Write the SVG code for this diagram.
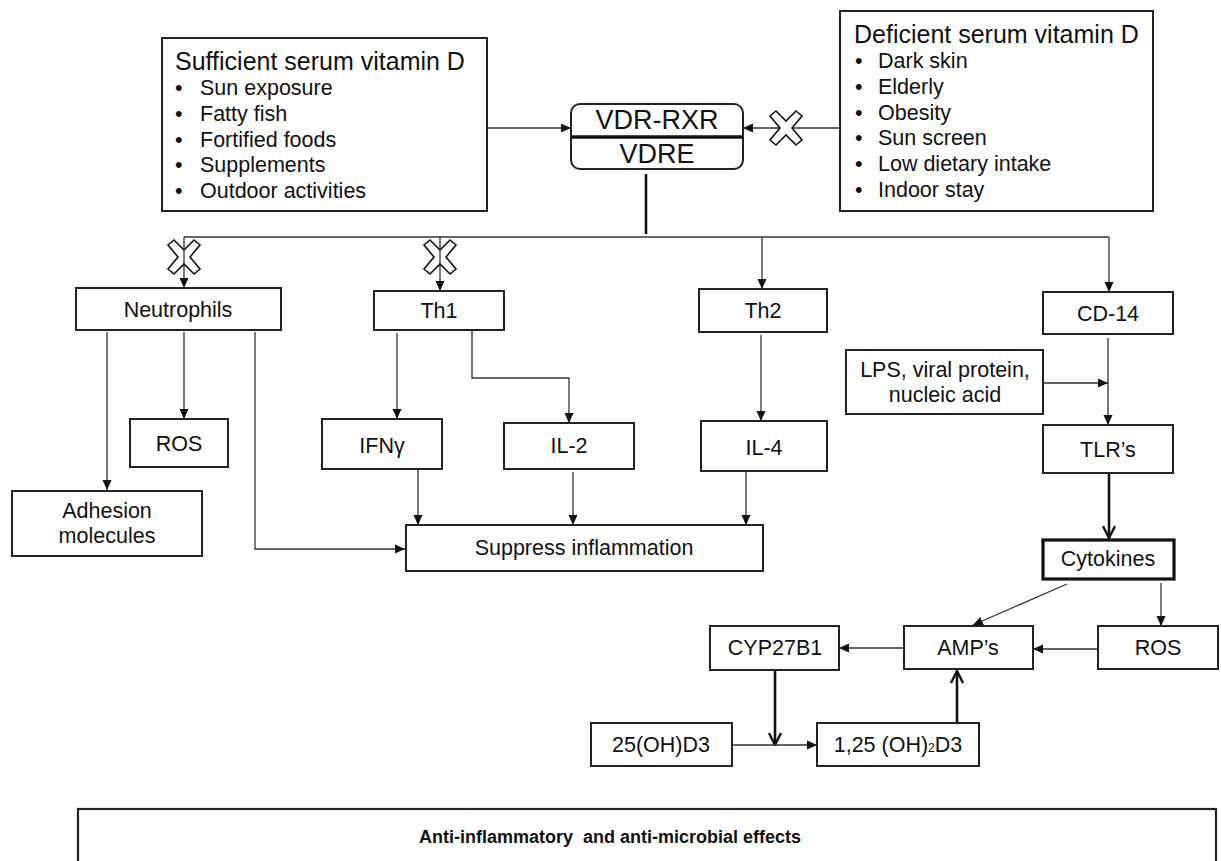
<svg xmlns="http://www.w3.org/2000/svg" width="1221" height="861" viewBox="0 0 1221 861">
<defs>
<style>
.box{fill:#fff;stroke:#222;stroke-width:2}
.thick{fill:#fff;stroke:#111;stroke-width:3.2}
.t{font-family:"Liberation Sans",Arial,sans-serif;font-size:21.5px;fill:#111;text-anchor:middle}
.l{font-family:"Liberation Sans",Arial,sans-serif;font-size:21.5px;fill:#111}
.h{font-family:"Liberation Sans",Arial,sans-serif;font-size:25px;fill:#111}
.c{fill:none;stroke:#333;stroke-width:1.3}
.ck{fill:none;stroke:#111;stroke-width:2.6}
.x{fill:#fff;stroke:#111;stroke-width:1.6;stroke-linejoin:miter}
</style>
<marker id="ah" viewBox="0 0 10 10" refX="10" refY="5" markerWidth="10" markerHeight="10" markerUnits="userSpaceOnUse" orient="auto"><path d="M0,0.5 L10,5 L0,9.5 z" fill="#111"/></marker>
<marker id="oh" viewBox="0 0 14 14" refX="13" refY="7" markerWidth="14" markerHeight="14" markerUnits="userSpaceOnUse" orient="auto"><path d="M1,1 L13,7 L1,13" fill="none" stroke="#111" stroke-width="2.4"/></marker>
<polygon id="xm" points="-16,-12 -10,-17 0,-7 10,-17 16,-12 6,0 16,12 10,17 0,7 -10,17 -16,12 -6,0"/>
</defs>
<rect width="1221" height="861" fill="#fff"/>

<g id="connectors">
<line class="c" x1="487" y1="128" x2="571" y2="128" marker-end="url(#ah)"/>
<line class="c" x1="840" y1="128" x2="743" y2="128" marker-end="url(#ah)"/>
<use href="#xm" class="x" x="786" y="128"/>
<line class="ck" x1="646" y1="174" x2="646" y2="234"/>
<polyline class="c" points="184,237 1109,237"/>
<use href="#xm" class="x" x="184" y="257"/>
<use href="#xm" class="x" x="440" y="257"/>
<line class="c" x1="184" y1="237" x2="184" y2="288" marker-end="url(#ah)"/>
<line class="c" x1="440" y1="237" x2="440" y2="291" marker-end="url(#ah)"/>
<line class="c" x1="762" y1="237" x2="762" y2="289" marker-end="url(#ah)"/>
<line class="c" x1="1109" y1="237" x2="1109" y2="292" marker-end="url(#ah)"/>
<line class="c" x1="107" y1="332" x2="107" y2="490" marker-end="url(#ah)"/>
<line class="c" x1="184" y1="332" x2="184" y2="419" marker-end="url(#ah)"/>
<polyline class="c" points="255,332 255,549 405,549" marker-end="url(#ah)"/>
<line class="c" x1="397" y1="333" x2="397" y2="419" marker-end="url(#ah)"/>
<polyline class="c" points="472,330 472,378 569,378 569,423" marker-end="url(#ah)"/>
<line class="c" x1="761" y1="335" x2="761" y2="421" marker-end="url(#ah)"/>
<line class="c" x1="418" y1="470" x2="418" y2="525" marker-end="url(#ah)"/>
<line class="c" x1="573" y1="472" x2="573" y2="525" marker-end="url(#ah)"/>
<line class="c" x1="746" y1="472" x2="746" y2="525" marker-end="url(#ah)"/>
<line class="c" x1="1108" y1="338" x2="1108" y2="425" marker-end="url(#ah)"/>
<line class="c" x1="1043" y1="383" x2="1108" y2="383" marker-end="url(#ah)"/>
<line class="ck" x1="1109" y1="474" x2="1109" y2="538" marker-end="url(#oh)"/>
<line class="c" x1="1067" y1="584" x2="973" y2="625" marker-end="url(#ah)"/>
<line class="c" x1="1161" y1="583" x2="1161" y2="626" marker-end="url(#ah)"/>
<line class="c" x1="1098" y1="649" x2="1033" y2="649" marker-end="url(#ah)"/>
<line class="c" x1="904" y1="648" x2="839" y2="648" marker-end="url(#ah)"/>
<line class="ck" x1="775" y1="671" x2="775" y2="745" marker-end="url(#oh)"/>
<line class="c" x1="732" y1="745" x2="817" y2="745" marker-end="url(#ah)"/>
<line class="ck" x1="957" y1="722" x2="957" y2="671" marker-end="url(#oh)"/>
</g>

<g id="sufficient">
<rect class="box" x="162" y="38" width="325" height="173"/>
<text class="h" x="175" y="70">Sufficient serum vitamin D</text>
<text class="l" x="175" y="95">•</text><text class="l" x="200" y="95">Sun exposure</text>
<text class="l" x="175" y="121">•</text><text class="l" x="200" y="121">Fatty fish</text>
<text class="l" x="175" y="147">•</text><text class="l" x="200" y="147">Fortified foods</text>
<text class="l" x="175" y="172">•</text><text class="l" x="200" y="172">Supplements</text>
<text class="l" x="175" y="198">•</text><text class="l" x="200" y="198">Outdoor activities</text>
</g>

<g id="deficient">
<rect class="box" x="840" y="11" width="313" height="200"/>
<text class="h" x="854" y="43">Deficient serum vitamin D</text>
<text class="l" x="855" y="68">•</text><text class="l" x="878" y="68">Dark skin</text>
<text class="l" x="855" y="94">•</text><text class="l" x="878" y="94">Elderly</text>
<text class="l" x="855" y="120">•</text><text class="l" x="878" y="120">Obesity</text>
<text class="l" x="855" y="145">•</text><text class="l" x="878" y="145">Sun screen</text>
<text class="l" x="855" y="171">•</text><text class="l" x="878" y="171">Low dietary intake</text>
<text class="l" x="855" y="197">•</text><text class="l" x="878" y="197">Indoor stay</text>
</g>

<g id="vdr">
<rect class="box" x="571" y="104" width="172" height="65" rx="9"/>
<line x1="571" y1="137" x2="743" y2="137" stroke="#111" stroke-width="3.5"/>
<text class="t" x="657" y="129" style="font-size:27px">VDR-RXR</text>
<text class="t" x="657" y="163" style="font-size:27px">VDRE</text>
</g>

<g id="neutrophils"><rect class="box" x="76" y="288" width="205" height="42"/><text class="t" x="178" y="317">Neutrophils</text></g>
<g id="th1"><rect class="box" x="374" y="291" width="130" height="39"/><text class="t" x="439" y="318">Th1</text></g>
<g id="th2"><rect class="box" x="699" y="289" width="128" height="43"/><text class="t" x="763" y="318">Th2</text></g>
<g id="cd14"><rect class="box" x="1043" y="292" width="130" height="42"/><text class="t" x="1108" y="321">CD-14</text></g>
<g id="ros1"><rect class="box" x="130" y="419" width="98" height="48"/><text class="t" x="179" y="451">ROS</text></g>
<g id="adhesion"><rect class="box" x="12" y="491" width="190" height="65"/><text class="t" x="107" y="518">Adhesion</text><text class="t" x="107" y="543">molecules</text></g>
<g id="ifng"><rect class="box" x="322" y="419" width="120" height="50"/><text class="t" x="382" y="453">IFNγ</text></g>
<g id="il2"><rect class="box" x="504" y="423" width="130" height="46"/><text class="t" x="569" y="453">IL-2</text></g>
<g id="il4"><rect class="box" x="701" y="421" width="126" height="50"/><text class="t" x="764" y="455">IL-4</text></g>
<g id="suppress"><rect class="box" x="406" y="525" width="357" height="46"/><text class="t" x="584" y="555">Suppress inflammation</text></g>
<g id="lps"><rect class="box" x="846" y="350" width="197" height="64"/><text class="t" x="945" y="377">LPS, viral protein,</text><text class="t" x="945" y="402">nucleic acid</text></g>
<g id="tlr"><rect class="box" x="1043" y="425" width="130" height="48"/><text class="t" x="1108" y="457">TLR’s</text></g>
<g id="cytokines"><rect class="thick" x="1043" y="540" width="131" height="39"/><text class="t" x="1108" y="566">Cytokines</text></g>
<g id="ros2"><rect class="box" x="1098" y="626" width="120" height="43"/><text class="t" x="1158" y="655">ROS</text></g>
<g id="amps"><rect class="box" x="904" y="626" width="129" height="43"/><text class="t" x="968" y="655">AMP’s</text></g>
<g id="cyp"><rect class="box" x="710" y="626" width="129" height="44"/><text class="t" x="775" y="655">CYP27B1</text></g>
<g id="d25"><rect class="box" x="591" y="723" width="141" height="43"/><text class="t" x="661" y="752">25(OH)D3</text></g>
<g id="d125"><rect class="box" x="817" y="723" width="162" height="43"/><text class="t" x="898" y="752">1,25 (OH)<tspan style="font-size:12px">2</tspan>D3</text></g>

<g id="effects">
<rect x="78" y="809" width="1138" height="80" fill="#fff" stroke="#222" stroke-width="2.2"/>
<text x="610" y="843" style="font-family:'Liberation Sans',Arial,sans-serif;font-size:18px;font-weight:bold;fill:#111;text-anchor:middle;white-space:pre">Anti-inflammatory  and anti-microbial effects</text>
</g>
</svg>
